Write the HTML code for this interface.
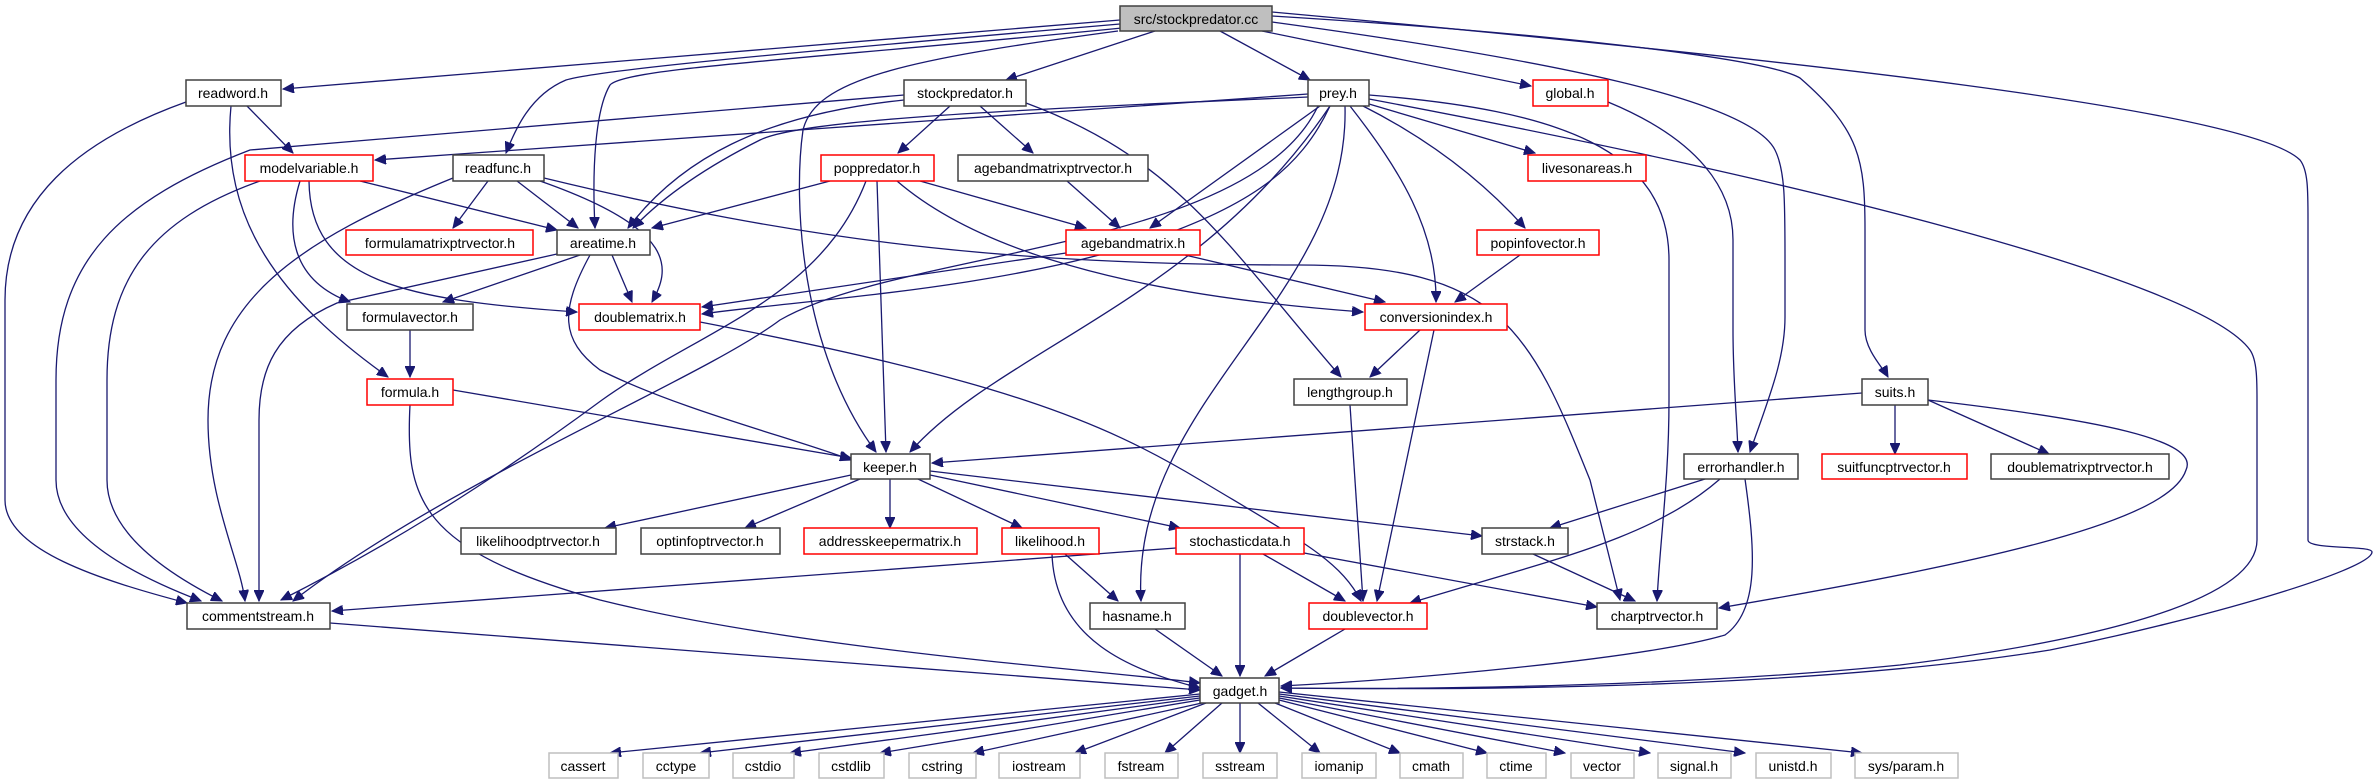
<!DOCTYPE html>
<html><head><meta charset="utf-8"><style>
html,body{margin:0;padding:0;background:#fff;}
svg{display:block;}
text{font-family:"Liberation Sans",sans-serif;font-size:14px;fill:#000;}
.e{fill:none;stroke:#191970;stroke-width:1.3;marker-end:url(#a);}
.n{fill:#fff;stroke:#404040;stroke-width:1.5;}
.r{fill:#fff;stroke:#ff0000;stroke-width:1.5;}
.g{fill:#fff;stroke:#bfbfbf;stroke-width:1.5;}
</style></head><body>
<svg width="2378" height="784" viewBox="0 0 2378 784" xmlns="http://www.w3.org/2000/svg">
<defs><marker id="a" markerUnits="userSpaceOnUse" markerWidth="12" markerHeight="10" refX="11" refY="5" orient="auto"><path d="M0,0 L11,5 L0,10 z" fill="#191970" stroke="#191970"/></marker></defs>
<g>
<path class="e" d="M1120,20 L283,89"/>
<path class="e" d="M1120,24 C760,55 600,70 566,80 C530,95 515,130 506,153"/>
<path class="e" d="M1122,28 C800,60 625,68 610,85 C595,110 592,170 595,228"/>
<path class="e" d="M1155,31 L1006,80"/>
<path class="e" d="M1220,31 L1310,80"/>
<path class="e" d="M1262,31 L1531,86"/>
<path class="e" d="M1118,31 C900,60 815,80 803,130 C793,200 800,350 876,452"/>
<path class="e" d="M1272,16 C1500,30 1760,55 1800,78 C1860,130 1865,160 1865,230 L1865,330 C1865,350 1883,368 1888,377"/>
<path class="e" d="M1272,22 C1550,60 1750,100 1775,150 C1785,170 1785,200 1785,260 L1785,317 C1785,360 1768,400 1750,452"/>
<path class="e" d="M1272,12 C1800,60 2250,110 2300,160 C2308,170 2308,190 2308,220 L2308,540 C2308,550 2372,545 2372,552 C2372,570 2200,620 2050,650 C1800,690 1450,690 1281,688"/>
<path class="e" d="M1608,102 C1700,140 1733,190 1733,240 L1733,330 C1733,380 1737,420 1738,452"/>
<path class="e" d="M904,95 L250,150 C120,200 56,260 56,380 L56,480 C56,530 120,570 201,601"/>
<path class="e" d="M904,100 C760,115 680,160 628,228"/>
<path class="e" d="M950,106 L898,153"/>
<path class="e" d="M980,106 L1033,153"/>
<path class="e" d="M1026,103 C1180,160 1230,250 1341,377"/>
<path class="e" d="M1308,94 L375,160"/>
<path class="e" d="M1308,97 C1000,110 800,120 760,140 C700,170 660,200 633,228"/>
<path class="e" d="M1330,106 C1300,170 1250,205 1150,240 C1000,290 800,300 702,314"/>
<path class="e" d="M1318,106 C1250,250 900,250 780,320 C700,380 450,480 293,601"/>
<path class="e" d="M1330,106 C1200,300 1000,350 910,452"/>
<path class="e" d="M1345,106 C1350,300 1130,400 1141,601"/>
<path class="e" d="M1320,106 L1150,228"/>
<path class="e" d="M1350,106 C1400,170 1437,230 1436,302"/>
<path class="e" d="M1369,104 L1535,153"/>
<path class="e" d="M1363,106 C1450,150 1500,200 1525,228"/>
<path class="e" d="M1369,95 C1560,110 1669,150 1669,260 L1669,400 C1669,480 1660,540 1657,601"/>
<path class="e" d="M1369,99 C1800,180 2200,280 2250,350 C2257,360 2257,380 2257,400 L2257,540 C2257,600 2100,640 1900,665 C1700,685 1450,690 1281,688"/>
<path class="e" d="M247,106 L293,153"/>
<path class="e" d="M231,106 C220,220 280,300 388,377"/>
<path class="e" d="M186,102 C80,140 5,200 5,300 L5,500 C5,550 100,580 187,603"/>
<path class="e" d="M360,181 L557,230"/>
<path class="e" d="M300,181 C285,230 290,280 350,302"/>
<path class="e" d="M309,181 C310,280 400,300 577,312"/>
<path class="e" d="M260,181 C150,220 107,280 107,380 L107,480 C107,530 160,570 222,601"/>
<path class="e" d="M488,181 L453,228"/>
<path class="e" d="M517,181 L578,228"/>
<path class="e" d="M540,181 C680,230 670,270 652,302"/>
<path class="e" d="M453,178 C300,240 208,300 208,420 C208,500 240,560 245,601"/>
<path class="e" d="M544,178 C800,240 1000,265 1300,265 C1500,265 1530,330 1590,480 L1620,600"/>
<path class="e" d="M557,254 L337,303 C275,330 259,370 259,420 L259,601"/>
<path class="e" d="M580,255 L443,302"/>
<path class="e" d="M612,255 L632,302"/>
<path class="e" d="M590,255 C560,310 560,340 600,370 C680,410 800,440 851,460"/>
<path class="e" d="M830,181 L652,228"/>
<path class="e" d="M920,181 L1086,228"/>
<path class="e" d="M897,181 C1000,270 1200,300 1363,312"/>
<path class="e" d="M877,181 L886,452"/>
<path class="e" d="M866,181 C820,300 700,330 602,400 C480,490 380,550 281,600"/>
<path class="e" d="M1067,181 L1120,228"/>
<path class="e" d="M1066,253 L702,307"/>
<path class="e" d="M1185,255 L1385,302"/>
<path class="e" d="M1520,255 L1455,302"/>
<path class="e" d="M1420,330 L1370,377"/>
<path class="e" d="M1434,330 L1377,601"/>
<path class="e" d="M700,322 C1000,380 1100,420 1200,480 C1300,540 1340,560 1361,601"/>
<path class="e" d="M1350,405 L1363,601"/>
<path class="e" d="M410,330 L410,377"/>
<path class="e" d="M453,390 L851,458"/>
<path class="e" d="M410,405 C405,500 420,550 600,600 C800,650 1100,670 1200,683"/>
<path class="e" d="M851,475 L605,528"/>
<path class="e" d="M860,479 L745,528"/>
<path class="e" d="M890,479 L890,528"/>
<path class="e" d="M918,479 L1022,528"/>
<path class="e" d="M930,475 L1180,528"/>
<path class="e" d="M930,471 L1482,536"/>
<path class="e" d="M1862,393 L932,463"/>
<path class="e" d="M1895,405 L1895,454"/>
<path class="e" d="M1928,400 L2049,454"/>
<path class="e" d="M1928,400 C2100,420 2200,440 2186,470 C2170,520 2000,560 1719,608"/>
<path class="e" d="M1705,479 L1550,528"/>
<path class="e" d="M1720,479 C1650,540 1550,560 1410,603"/>
<path class="e" d="M1745,479 C1755,550 1760,610 1725,635 C1640,660 1400,680 1281,686"/>
<path class="e" d="M1533,554 L1635,601"/>
<path class="e" d="M1065,554 L1118,601"/>
<path class="e" d="M1052,554 C1055,640 1130,670 1200,688"/>
<path class="e" d="M1176,548 L332,611"/>
<path class="e" d="M1240,554 L1240,676"/>
<path class="e" d="M1263,554 L1345,601"/>
<path class="e" d="M1304,553 L1597,607"/>
<path class="e" d="M330,623 L1200,690"/>
<path class="e" d="M1155,629 L1222,676"/>
<path class="e" d="M1345,629 L1265,676"/>
<path class="e" d="M1200,694 L610,753"/>
<path class="e" d="M1200,696 L700,753"/>
<path class="e" d="M1200,698 L790,753"/>
<path class="e" d="M1200,700 L880,753"/>
<path class="e" d="M1202,703 L973,753"/>
<path class="e" d="M1206,703 L1075,753"/>
<path class="e" d="M1222,703 L1165,753"/>
<path class="e" d="M1240,703 L1240,753"/>
<path class="e" d="M1258,703 L1320,753"/>
<path class="e" d="M1275,703 L1400,753"/>
<path class="e" d="M1279,700 L1487,753"/>
<path class="e" d="M1279,698 L1565,753"/>
<path class="e" d="M1279,696 L1650,753"/>
<path class="e" d="M1279,694 L1745,753"/>
<path class="e" d="M1279,692 L1862,753"/>
</g>
<g>
<rect x="1120" y="6" width="152" height="25" fill="#bfbfbf" stroke="#404040" stroke-width="1.5"/><text x="1196" y="24" text-anchor="middle">src/stockpredator.cc</text>
<rect class="n" x="186" y="80" width="95" height="26"/><text x="233" y="98" text-anchor="middle">readword.h</text>
<rect class="n" x="904" y="80" width="122" height="26"/><text x="965" y="98" text-anchor="middle">stockpredator.h</text>
<rect class="n" x="1308" y="80" width="61" height="26"/><text x="1338" y="98" text-anchor="middle">prey.h</text>
<rect class="r" x="1533" y="80" width="75" height="26"/><text x="1570" y="98" text-anchor="middle">global.h</text>
<rect class="r" x="245" y="155" width="128" height="26"/><text x="309" y="173" text-anchor="middle">modelvariable.h</text>
<rect class="n" x="453" y="155" width="91" height="26"/><text x="498" y="173" text-anchor="middle">readfunc.h</text>
<rect class="r" x="821" y="155" width="113" height="26"/><text x="877" y="173" text-anchor="middle">poppredator.h</text>
<rect class="n" x="958" y="155" width="190" height="26"/><text x="1053" y="173" text-anchor="middle">agebandmatrixptrvector.h</text>
<rect class="r" x="1528" y="155" width="118" height="26"/><text x="1587" y="173" text-anchor="middle">livesonareas.h</text>
<rect class="r" x="346" y="230" width="187" height="25"/><text x="440" y="248" text-anchor="middle">formulamatrixptrvector.h</text>
<rect class="n" x="557" y="230" width="93" height="25"/><text x="603" y="248" text-anchor="middle">areatime.h</text>
<rect class="r" x="1066" y="230" width="134" height="25"/><text x="1133" y="248" text-anchor="middle">agebandmatrix.h</text>
<rect class="r" x="1477" y="230" width="122" height="25"/><text x="1538" y="248" text-anchor="middle">popinfovector.h</text>
<rect class="n" x="347" y="304" width="126" height="26"/><text x="410" y="322" text-anchor="middle">formulavector.h</text>
<rect class="r" x="579" y="304" width="121" height="26"/><text x="640" y="322" text-anchor="middle">doublematrix.h</text>
<rect class="r" x="1365" y="304" width="142" height="26"/><text x="1436" y="322" text-anchor="middle">conversionindex.h</text>
<rect class="r" x="367" y="379" width="86" height="26"/><text x="410" y="397" text-anchor="middle">formula.h</text>
<rect class="n" x="1294" y="379" width="113" height="26"/><text x="1350" y="397" text-anchor="middle">lengthgroup.h</text>
<rect class="n" x="1862" y="379" width="66" height="26"/><text x="1895" y="397" text-anchor="middle">suits.h</text>
<rect class="n" x="851" y="454" width="79" height="25"/><text x="890" y="472" text-anchor="middle">keeper.h</text>
<rect class="n" x="1684" y="454" width="114" height="25"/><text x="1741" y="472" text-anchor="middle">errorhandler.h</text>
<rect class="r" x="1822" y="454" width="145" height="25"/><text x="1894" y="472" text-anchor="middle">suitfuncptrvector.h</text>
<rect class="n" x="1991" y="454" width="178" height="25"/><text x="2080" y="472" text-anchor="middle">doublematrixptrvector.h</text>
<rect class="n" x="461" y="528" width="155" height="26"/><text x="538" y="546" text-anchor="middle">likelihoodptrvector.h</text>
<rect class="n" x="641" y="528" width="139" height="26"/><text x="710" y="546" text-anchor="middle">optinfoptrvector.h</text>
<rect class="r" x="804" y="528" width="173" height="26"/><text x="890" y="546" text-anchor="middle">addresskeepermatrix.h</text>
<rect class="r" x="1002" y="528" width="97" height="26"/><text x="1050" y="546" text-anchor="middle">likelihood.h</text>
<rect class="r" x="1176" y="528" width="128" height="26"/><text x="1240" y="546" text-anchor="middle">stochasticdata.h</text>
<rect class="n" x="1482" y="528" width="86" height="26"/><text x="1525" y="546" text-anchor="middle">strstack.h</text>
<rect class="n" x="187" y="603" width="143" height="26"/><text x="258" y="621" text-anchor="middle">commentstream.h</text>
<rect class="n" x="1090" y="603" width="95" height="26"/><text x="1137" y="621" text-anchor="middle">hasname.h</text>
<rect class="r" x="1309" y="603" width="118" height="26"/><text x="1368" y="621" text-anchor="middle">doublevector.h</text>
<rect class="n" x="1597" y="603" width="120" height="26"/><text x="1657" y="621" text-anchor="middle">charptrvector.h</text>
<rect class="n" x="1200" y="678" width="79" height="25"/><text x="1240" y="696" text-anchor="middle">gadget.h</text>
<rect class="g" x="549" y="753" width="69" height="25"/><text x="583" y="771" text-anchor="middle">cassert</text>
<rect class="g" x="643" y="753" width="66" height="25"/><text x="676" y="771" text-anchor="middle">cctype</text>
<rect class="g" x="733" y="753" width="61" height="25"/><text x="763" y="771" text-anchor="middle">cstdio</text>
<rect class="g" x="819" y="753" width="65" height="25"/><text x="851" y="771" text-anchor="middle">cstdlib</text>
<rect class="g" x="909" y="753" width="67" height="25"/><text x="942" y="771" text-anchor="middle">cstring</text>
<rect class="g" x="999" y="753" width="81" height="25"/><text x="1039" y="771" text-anchor="middle">iostream</text>
<rect class="g" x="1105" y="753" width="73" height="25"/><text x="1141" y="771" text-anchor="middle">fstream</text>
<rect class="g" x="1203" y="753" width="74" height="25"/><text x="1240" y="771" text-anchor="middle">sstream</text>
<rect class="g" x="1302" y="753" width="74" height="25"/><text x="1339" y="771" text-anchor="middle">iomanip</text>
<rect class="g" x="1400" y="753" width="63" height="25"/><text x="1431" y="771" text-anchor="middle">cmath</text>
<rect class="g" x="1487" y="753" width="59" height="25"/><text x="1516" y="771" text-anchor="middle">ctime</text>
<rect class="g" x="1571" y="753" width="63" height="25"/><text x="1602" y="771" text-anchor="middle">vector</text>
<rect class="g" x="1658" y="753" width="73" height="25"/><text x="1694" y="771" text-anchor="middle">signal.h</text>
<rect class="g" x="1756" y="753" width="75" height="25"/><text x="1793" y="771" text-anchor="middle">unistd.h</text>
<rect class="g" x="1855" y="753" width="103" height="25"/><text x="1906" y="771" text-anchor="middle">sys/param.h</text>
</g>
</svg>
</body></html>
